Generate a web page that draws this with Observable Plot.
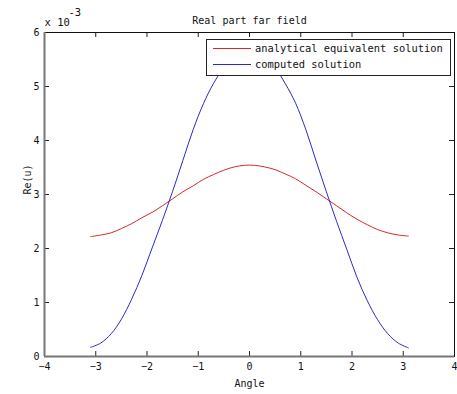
<!DOCTYPE html>
<html>
<head>
<meta charset="utf-8">
<script src="https://cdn.jsdelivr.net/npm/d3@7"></script>
<script src="https://cdn.jsdelivr.net/npm/@observablehq/plot@0.6"></script>
<style>
  body { margin: 0; background: white; }
  #wrap { position: relative; width: 457px; height: 394px; }
</style>
</head>
<body>
<div id="wrap"></div>
<script>
// Values in units of 10^-3
const angle = [-3.1, -2.9, -2.7, -2.5, -2.3, -2.1, -1.9, -1.7, -1.5, -1.3, -1.1, -0.9, -0.7, -0.5, -0.3, -0.1,
                0.1, 0.3, 0.5, 0.7, 0.9, 1.1, 1.3, 1.5, 1.7, 1.9, 2.1, 2.3, 2.5, 2.7, 2.9, 3.1];
const analytical = [2.22, 2.25, 2.29, 2.37, 2.46, 2.57, 2.67, 2.79, 2.92, 3.05, 3.16, 3.28, 3.37, 3.45, 3.51, 3.54,
                    3.54, 3.51, 3.46, 3.38, 3.29, 3.17, 3.05, 2.92, 2.79, 2.66, 2.54, 2.44, 2.35, 2.29, 2.25, 2.23];
const computed = [0.17, 0.25, 0.42, 0.69, 1.06, 1.50, 2.01, 2.52, 3.06, 3.63, 4.20, 4.68, 5.06, 5.35, 5.56, 5.65,
                  5.65, 5.56, 5.35, 5.05, 4.69, 4.20, 3.62, 3.05, 2.50, 1.98, 1.46, 1.03, 0.68, 0.42, 0.25, 0.16];
const seriesNames = ["analytical equivalent solution", "computed solution"];
const seriesColors = ["#d42a2a", "#2a2ac8"];
const xTicks = [-4, -3, -2, -1, 0, 1, 2, 3, 4];
const yTicks = [0, 1, 2, 3, 4, 5, 6];
const title = "Real part far field";
const xLabel = "Angle";
const yLabel = "Re(u)";

const redData = angle.map((a, i) => ({a, v: analytical[i]}));
const blueData = angle.map((a, i) => ({a, v: computed[i]}));

const W = 457, H = 394;
const mL = 44, mR = 3, mT = 32, mB = 38;
const tickLen = 5;
const yTickData = (6 - 0) / (H - mT - mB) * tickLen;
const xTickData = (8) / (W - mL - mR) * tickLen;

const chart = Plot.plot({
  width: W, height: H,
  marginLeft: mL, marginRight: mR, marginTop: mT, marginBottom: mB,
  style: { fontFamily: "DejaVu Sans Mono, monospace", fontSize: "10px", background: "white", color: "#111", overflow: "visible" },
  x: { domain: [-4, 4] },
  y: { domain: [0, 6] },
  marks: [
    Plot.axisX({ ticks: xTicks, tickFormat: d => String(d).replace("-", "\u2212"), tickSize: 0, tickPadding: 6, label: null, fontSize: 10 }),
    Plot.axisY({ ticks: yTicks, tickFormat: d => String(d), tickSize: 0, tickPadding: 5, label: null, fontSize: 10 }),
    // inward ticks on all four sides
    Plot.ruleX(xTicks, { x: d => d, y1: 0, y2: yTickData, stroke: "#222" }),
    Plot.ruleX(xTicks, { x: d => d, y1: 6, y2: 6 - yTickData, stroke: "#222" }),
    Plot.ruleY(yTicks, { y: d => d, x1: -4, x2: -4 + xTickData, stroke: "#222" }),
    Plot.ruleY(yTicks, { y: d => d, x1: 4, x2: 4 - xTickData, stroke: "#222" }),
    Plot.frame({ stroke: "#111" }),
    Plot.ruleY([0], { stroke: "#777", strokeWidth: 2 }),
    Plot.ruleX([-4], { stroke: "#777", strokeWidth: 2 }),
    Plot.line(redData, { x: "a", y: "v", stroke: seriesColors[0], strokeWidth: 1, curve: "catmull-rom" }),
    Plot.line(blueData, { x: "a", y: "v", stroke: seriesColors[1], strokeWidth: 1, curve: "catmull-rom" }),
    Plot.text([title], { text: d => d, frameAnchor: "top", dy: -12, lineAnchor: "middle", fontSize: 10 }),
    Plot.text([xLabel], { text: d => d, frameAnchor: "bottom", dy: 27, lineAnchor: "middle", fontSize: 10 }),
    Plot.text([yLabel], { text: d => d, frameAnchor: "left", dx: -17, rotate: -90, lineAnchor: "middle", fontSize: 10 }),
    Plot.text(["x 10"], { text: d => d, frameAnchor: "top-left", textAnchor: "start", dx: 0, dy: -10, lineAnchor: "middle", fontSize: 10.5 }),
    Plot.text(["-3"], { text: d => d, frameAnchor: "top-left", textAnchor: "start", dx: 24, dy: -20, lineAnchor: "middle", fontSize: 10.5 })
  ]
});

const wrap = document.getElementById("wrap");
wrap.appendChild(chart);

// Legend box drawn inside the SVG (top-right of the axes)
const lg = d3.select(chart).append("g")
  .attr("transform", "translate(206,39)")
  .attr("text-anchor", "start");
lg.append("rect").attr("x", 0.5).attr("y", 0.5).attr("width", 244).attr("height", 36)
  .attr("fill", "#ffffff").attr("fill-opacity", 1).style("fill", "#ffffff")
  .attr("stroke", "#222").attr("stroke-width", 1);
seriesNames.forEach((name, i) => {
  const cy = 9.5 + i * 16;
  lg.append("line").attr("x1", 7).attr("x2", 45).attr("y1", cy).attr("y2", cy)
    .attr("stroke", seriesColors[i]).attr("stroke-width", 1);
  lg.append("text").attr("x", 49).attr("y", cy).attr("dy", "0.35em")
    .attr("text-anchor", "start")
    .attr("font-family", "DejaVu Sans Mono, monospace").attr("font-size", 10.4)
    .attr("fill", "#111").text(name);
});
</script>
</body>
</html>
